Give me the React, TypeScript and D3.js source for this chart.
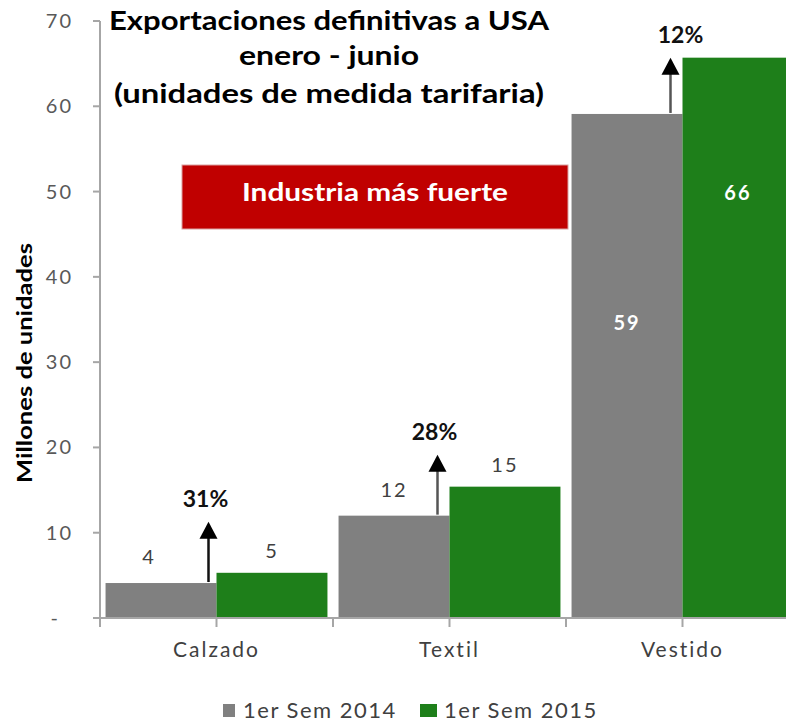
import * as d3 from "d3";

// chart data
const categories = ["Calzado", "Textil", "Vestido"];
const series = ["1er Sem 2014", "1er Sem 2015"];
const values2014 = [4.1, 12.0, 59.1];
const values2015 = [5.3, 15.4, 65.7];
const labels2014 = ["4", "12", "59"];
const labels2015 = ["5", "15", "66"];
const growthLabels = ["31%", "28%", "12%"];
const yTicks = [0, 10, 20, 30, 40, 50, 60, 70];
const titleLines = [
    "Exportaciones definitivas a USA",
    "enero - junio",
    "(unidades de medida tarifaria)",
];

const W = 786;
const H = 722;
const FONT = "Lato, 'Open Sans', sans-serif";
const GRAY = "#808080";
const GREEN = "#1e7f1a";
const RED = "#c00000";
const AXIS = "#a6a6a6";
const TEXT = "#404040";

const App = () => {
    const margin = { top: 21, left: 100, bottom: 104 };

    const y = d3
        .scaleLinear()
        .domain([0, 70])
        .range([H - margin.bottom, margin.top]);

    // plot continues past the right edge of the picture
    const x = d3.scaleBand().domain(categories).range([margin.left, 799]);
    const xs = d3
        .scaleBand()
        .domain(series)
        .range([0, x.bandwidth()])
        .paddingOuter(0.05);

    const colors = [GRAY, GREEN];
    const vals = [values2014, values2015];
    const labs = [labels2014, labels2015];

    const y0 = y(0);

    // small manual nudges, as in the original slide
    const labelLift = [26, 22];
    const insideLabelAt = [34.6, 49.8];
    const arrowGap = [51, 32, 0];

    const halfTicks = [];
    categories.forEach((c) => {
        halfTicks.push(x(c));
        halfTicks.push(x(c) + x.bandwidth() / 2);
    });

    return (
        <svg
            width={W}
            height={H}
            style={{ position: "absolute", left: 0, top: 0, background: "#fff" }}
            fontFamily={FONT}
        >
            {/* bars */}
            {categories.map((c, i) =>
                series.map((s, j) => (
                    <rect
                        key={c + s}
                        x={x(c) + xs(s)}
                        y={y(vals[j][i])}
                        width={xs.bandwidth()}
                        height={y0 - y(vals[j][i])}
                        fill={colors[j]}
                    />
                ))
            )}

            {/* value labels */}
            {categories.map((c, i) =>
                series.map((s, j) => {
                    const big = vals[j][i] > 40;
                    const cx = x(c) + xs(s) + xs.bandwidth() / 2 - (i === 0 && j === 0 ? 12 : 0);
                    const cy = big
                        ? y(insideLabelAt[j])
                        : y(vals[j][i]) - labelLift[j];
                    return (
                        <text
                            key={"l" + c + s}
                            x={cx}
                            y={cy}
                            dy="0.35em"
                            textAnchor="middle"
                            fontSize={20}
                            letterSpacing={2}
                            fontWeight={big ? "bold" : "normal"}
                            fill={big ? "#fff" : TEXT}
                        >
                            {labs[j][i]}
                        </text>
                    );
                })
            )}

            {/* growth arrows */}
            {categories.map((c, i) => {
                const ax = x(c) + xs(series[1]) - (i === 0 ? 8 : 12);
                const from = y(values2014[i]);
                const tip = y(values2015[i]) - arrowGap[i];
                return (
                    <g key={"a" + c}>
                        <line
                            x1={ax}
                            x2={ax}
                            y1={from - 1}
                            y2={tip + 14}
                            stroke={i === 0 ? "#111" : "#555"}
                            strokeWidth={2.5}
                        />
                        <path
                            d={`M${ax},${tip} L${ax - 9},${tip + 17} L${ax + 9},${tip + 17} Z`}
                            fill="#000"
                        />
                        <text
                            x={ax + (i === 2 ? 10 : -3)}
                            y={tip - 23}
                            dy="0.35em"
                            textAnchor="middle"
                            fontSize={23}
                            fontWeight="bold"
                            fill="#111"
                        >
                            {growthLabels[i]}
                        </text>
                    </g>
                );
            })}

            {/* y axis */}
            <line x1={margin.left} x2={margin.left} y1={y(70)} y2={y0} stroke={AXIS} strokeWidth={2} />
            {yTicks.map((t) => (
                <g key={"yt" + t}>
                    <line x1={margin.left - 7} x2={margin.left} y1={y(t)} y2={y(t)} stroke={AXIS} strokeWidth={2} />
                    <text
                        x={t === 0 ? 60 : 73}
                        y={y(t)}
                        dy="0.35em"
                        textAnchor="end"
                        fontSize={20}
                        letterSpacing={2}
                        fill="#595959"
                    >
                        {t === 0 ? "-" : t}
                    </text>
                </g>
            ))}

            {/* x axis */}
            <line x1={margin.left} x2={W} y1={y0} y2={y0} stroke={AXIS} strokeWidth={2} />
            {halfTicks.map((t, k) => (
                <line key={"xt" + k} x1={t} x2={t} y1={y0} y2={y0 + 9} stroke={AXIS} strokeWidth={2} />
            ))}
            {categories.map((c) => (
                <text
                    key={"xl" + c}
                    x={x(c) + x.bandwidth() / 2}
                    y={657}
                    textAnchor="middle"
                    fontSize={21}
                    letterSpacing={2}
                    fill={TEXT}
                >
                    {c}
                </text>
            ))}

            {/* y title */}
            <text
                transform="translate(32,363) rotate(-90)"
                textAnchor="middle"
                fontSize={20}
                fontWeight="bold"
                textLength={240}
                lengthAdjust="spacingAndGlyphs"
                fill="#000"
            >
                Millones de unidades
            </text>

            {/* title */}
            {titleLines.map((t, k) => (
                <text
                    key={"t" + k}
                    x={329}
                    y={[30, 65, 103][k]}
                    textAnchor="middle"
                    fontSize={27}
                    fontWeight="bold"
                    textLength={[440, 180, 430][k]}
                    lengthAdjust="spacingAndGlyphs"
                    fill="#000"
                >
                    {t}
                </text>
            ))}

            {/* red banner */}
            <rect x={182} y={165} width={386} height={64} fill={RED} stroke="#d9a0a0" strokeWidth={1} />
            <text
                x={375}
                y={201}
                textAnchor="middle"
                fontSize={24}
                fontWeight="bold"
                textLength={266}
                lengthAdjust="spacingAndGlyphs"
                fill="#fff"
            >
                Industria más fuerte
            </text>

            {/* legend */}
            {series.map((s, j) => (
                <g key={"lg" + s} transform={`translate(${[223, 420][j]},0)`}>
                    <rect x={0} y={704} width={j === 0 ? 12 : 17} height={13} fill={colors[j]} />
                    <text x={j === 0 ? 20 : 24} y={718} fontSize={22} letterSpacing={1.5} fill={TEXT}>
                        {s}
                    </text>
                </g>
            ))}
        </svg>
    );
};

export default App;
